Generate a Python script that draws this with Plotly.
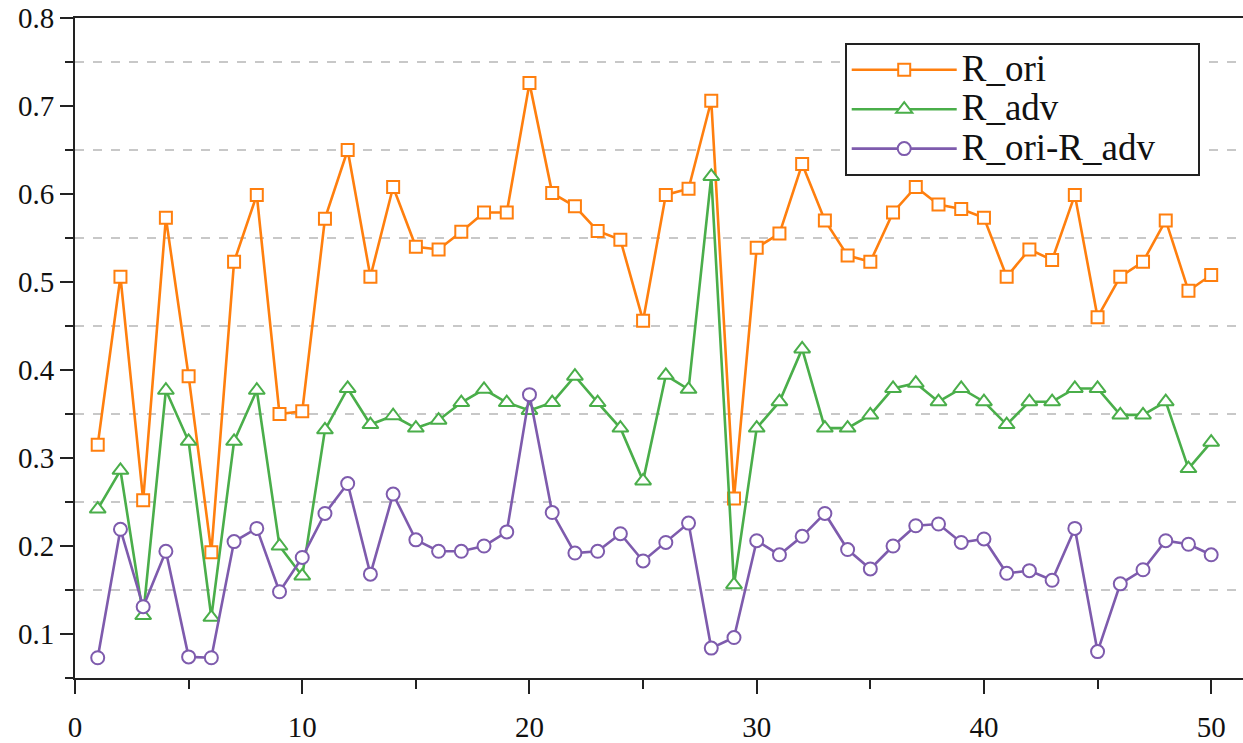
import plotly.graph_objects as go

x = list(range(1, 51))

r_ori = [0.315, 0.506, 0.252, 0.573, 0.393, 0.193, 0.523, 0.599, 0.350, 0.353,
         0.572, 0.650, 0.506, 0.608, 0.540, 0.537, 0.557, 0.579, 0.579, 0.726,
         0.601, 0.586, 0.558, 0.548, 0.456, 0.599, 0.606, 0.706, 0.254, 0.539,
         0.555, 0.634, 0.570, 0.530, 0.523, 0.579, 0.608, 0.588, 0.583, 0.573,
         0.506, 0.537, 0.525, 0.599, 0.460, 0.506, 0.523, 0.570, 0.490, 0.508]

r_adv = [0.242, 0.286, 0.121, 0.377, 0.319, 0.119, 0.319, 0.377, 0.200, 0.166,
         0.332, 0.379, 0.338, 0.348, 0.334, 0.343, 0.363, 0.378, 0.363, 0.354,
         0.363, 0.393, 0.363, 0.334, 0.274, 0.394, 0.378, 0.620, 0.156, 0.334,
         0.364, 0.424, 0.334, 0.334, 0.349, 0.379, 0.385, 0.364, 0.379, 0.364,
         0.338, 0.364, 0.364, 0.379, 0.379, 0.349, 0.349, 0.364, 0.288, 0.318]

r_diff = [0.073, 0.219, 0.131, 0.194, 0.074, 0.073, 0.205, 0.220, 0.148, 0.187,
          0.237, 0.271, 0.168, 0.259, 0.207, 0.194, 0.194, 0.200, 0.216, 0.372,
          0.238, 0.192, 0.194, 0.214, 0.183, 0.204, 0.226, 0.084, 0.096, 0.206,
          0.190, 0.211, 0.237, 0.196, 0.174, 0.200, 0.223, 0.225, 0.204, 0.208,
          0.169, 0.172, 0.161, 0.220, 0.080, 0.157, 0.173, 0.206, 0.202, 0.190]

names = ["R_ori", "R_adv", "R_ori-R_adv"]
colors = ["#FF7F0E", "#4AAE4A", "#7E5BAD"]
symbols = ["square", "triangle-up", "circle"]
sizes = [12, 14, 13]

font_family = "'Liberation Serif', 'Times New Roman', 'DejaVu Serif', serif"

fig = go.Figure()
for ys, nm, c, s, sz in zip([r_ori, r_adv, r_diff], names, colors, symbols, sizes):
    pad = "&nbsp;" * 4 if nm == "R_ori-R_adv" else ""
    fig.add_trace(go.Scatter(
        x=x, y=ys, name='<span style="font-size:37px">' + nm + pad + '</span>',
        mode="lines+markers",
        line=dict(color=c, width=2.6),
        marker=dict(symbol=s, size=sz, color="white", line=dict(color=c, width=2)),
    ))

fig.update_layout(
    width=1243, height=743,
    margin=dict(l=75, r=0, t=18, b=60),
    paper_bgcolor="white", plot_bgcolor="white",
    font=dict(family=font_family, size=29, color="#111"),
    showlegend=True,
    legend=dict(
        x=0.659, y=0.962, xanchor="left", yanchor="top",
        bgcolor="white", bordercolor="#222", borderwidth=2,
        font=dict(family=font_family, size=28, color="#111"),
        itemwidth=105, tracegroupgap=0,
    ),
)
fig.update_xaxes(
    range=[0, 51.4], tickvals=[0, 10, 20, 30, 40, 50],
    tickfont=dict(family=font_family, size=29),
    showline=True, linecolor="#222", linewidth=2, mirror=True,
    ticks="outside", ticklen=14, tickwidth=2, tickcolor="#222",
    minor=dict(dtick=5, tick0=0, ticks="outside", ticklen=9, tickwidth=2, tickcolor="#222"),
    showgrid=False, zeroline=False, ticklabelstandoff=8,
)
fig.update_yaxes(
    range=[0.05, 0.8], tickvals=[0.1, 0.2, 0.3, 0.4, 0.5, 0.6, 0.7, 0.8],
    ticktext=["0.1", "0.2", "0.3", "0.4", "0.5", "0.6", "0.7", "0.8"],
    tickfont=dict(family=font_family, size=29),
    showline=True, linecolor="#222", linewidth=2,
    ticks="outside", ticklen=13, tickwidth=2, tickcolor="#222",
    minor=dict(tickvals=[0.05, 0.15, 0.25, 0.35, 0.45, 0.55, 0.65, 0.75],
               ticks="outside", ticklen=8, tickwidth=2, tickcolor="#222",
               showgrid=True, gridcolor="#C8C8C8", gridwidth=1.5, griddash="dash"),
    showgrid=False, zeroline=False,
)
fig.write_html("out.html")
